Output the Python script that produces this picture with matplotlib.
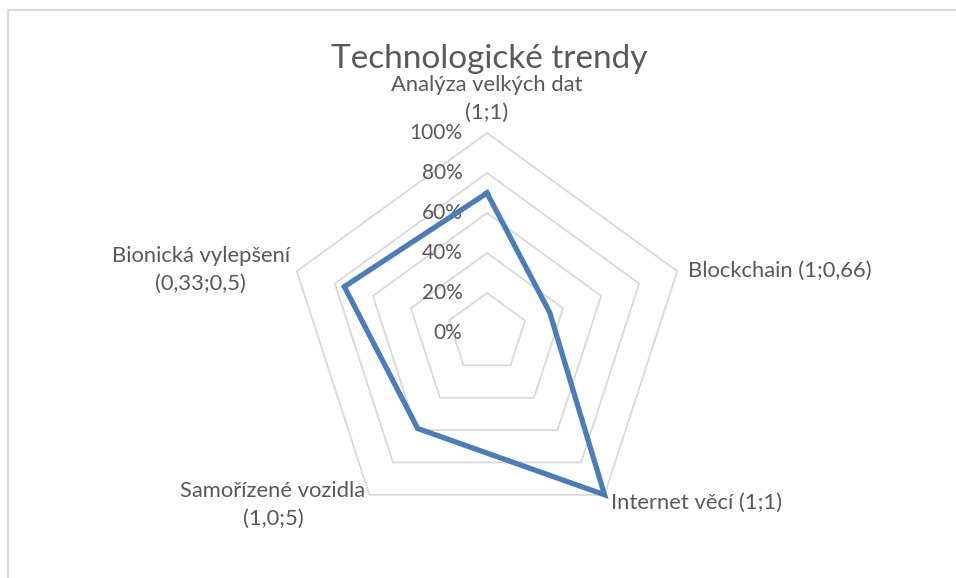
import numpy as np
import matplotlib.pyplot as plt
from matplotlib.patches import Rectangle

# data
categories = ["Analýza velkých dat\n(1;1)", "Blockchain (1;0,66)", "Internet věcí (1;1)",
              "Samořízené vozidla\n(1,0;5)", "Bionická vylepšení\n(0,33;0,5)"]
values = [0.70, 0.33, 1.00, 0.59, 0.75]
ticks = [0.0, 0.2, 0.4, 0.6, 0.8, 1.0]
tick_labels = ["0%", "20%", "40%", "60%", "80%", "100%"]
title = "Technologické trendy"

plt.rcParams['font.family'] = ['Lato', 'DejaVu Sans']
txt_col = '#595959'
grid_col = '#d9d9d9'
line_col = '#4a7ebb'

W, H = 956, 578
cx, cy, R = 487, 333, 200  # centre and radius of the 100% ring in px

fig = plt.figure(figsize=(W / 100, H / 100), dpi=100)
ax = fig.add_axes([0, 0, 1, 1])
ax.set_xlim(-cx / R, (W - cx) / R)
ax.set_ylim(-(H - cy) / R, cy / R)
ax.axis('off')

n = len(categories)
ang = np.pi / 2 - 2 * np.pi * np.arange(n) / n


def polygon(r):
    r = np.broadcast_to(np.asarray(r, dtype=float), (n,))
    x = r * np.cos(ang)
    y = r * np.sin(ang)
    return np.append(x, x[0]), np.append(y, y[0])


# pentagon grid
for t in ticks[1:]:
    gx, gy = polygon(t)
    ax.plot(gx, gy, color=grid_col, lw=1.3, zorder=1)

# series
dx, dy = polygon(values)
ax.plot(dx, dy, color=line_col, lw=3.8, solid_joinstyle='miter', zorder=3)

# radial tick labels
for t, lbl in zip(ticks, tick_labels):
    ax.annotate(lbl, (0, t), xytext=(-24.5, 0), textcoords='offset pixels',
                ha='right', va='center', fontsize=15, color=txt_col, zorder=2)

# category labels (offsets in px from the outer vertex)
offs = [(0, 10), (11, 0), (6, -8), (-4, -10), (-7, 1)]
has = ['center', 'left', 'left', 'right', 'right']
vas = ['bottom', 'center', 'center', 'center', 'center']
for i, lbl in enumerate(categories):
    ax.annotate(lbl, (np.cos(ang[i]), np.sin(ang[i])), xytext=offs[i],
                textcoords='offset pixels', ha=has[i], va=vas[i],
                multialignment='center', linespacing=1.5,
                fontsize=15.8, color=txt_col)

fig.text(489 / W, 1 - 68 / H, title, ha='center', va='baseline',
         fontsize=24, color=txt_col)

# chart area border (right and bottom edges fall outside the image)
fig.add_artist(Rectangle((7.5 / W, -0.1), 1.2, 1.1 - 10.5 / H,
                         transform=fig.transFigure, fill=False,
                         edgecolor=grid_col, lw=1.5))

fig.savefig('out.png', dpi=100)
